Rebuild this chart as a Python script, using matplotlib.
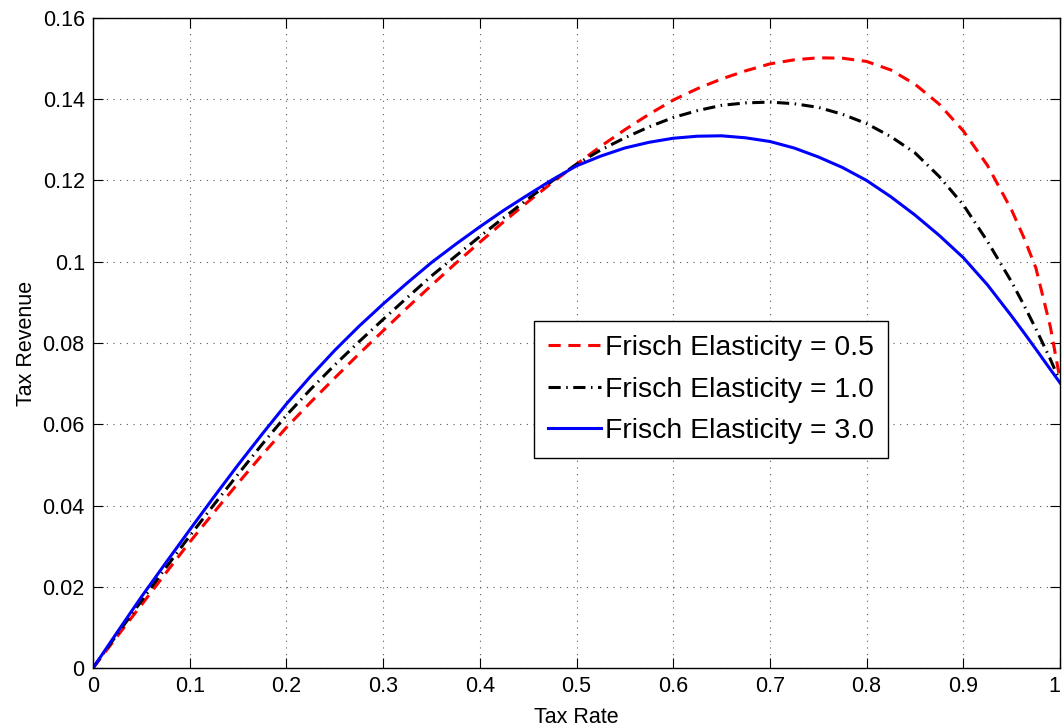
import matplotlib
matplotlib.use('Agg')
import matplotlib.pyplot as plt

# values
tax_rate = [0.0, 0.025, 0.05, 0.075, 0.1, 0.125, 0.15, 0.175, 0.2, 0.225,
            0.25, 0.275, 0.3, 0.325, 0.35, 0.375, 0.4, 0.425, 0.45, 0.475,
            0.5, 0.525, 0.55, 0.575, 0.6, 0.625, 0.65, 0.675, 0.7, 0.725,
            0.75, 0.775, 0.8, 0.825, 0.85, 0.875, 0.9, 0.925, 0.95, 0.9625, 0.975, 0.99, 1.0]
rev_e05 = [0.0, 0.0078, 0.0155, 0.0233, 0.031, 0.0383, 0.0455, 0.0525, 0.0592, 0.0654,
           0.0714, 0.0773, 0.0830, 0.0887, 0.0942, 0.0996, 0.1048, 0.1099, 0.1148, 0.1195,
           0.1240, 0.1284, 0.1325, 0.1363, 0.1398, 0.1426, 0.1450, 0.1470, 0.1487, 0.1497,
           0.1502, 0.1501, 0.1493, 0.1472, 0.1437, 0.1388, 0.1322, 0.1237, 0.1127, 0.1060, 0.0985, 0.0840, 0.0710]
rev_e10 = [0.0, 0.0083, 0.0165, 0.0246, 0.0325, 0.0402, 0.0477, 0.0551, 0.0622, 0.0686,
           0.0746, 0.0803, 0.0858, 0.0912, 0.0965, 0.1014, 0.1062, 0.1109, 0.1155, 0.1199,
           0.1240, 0.1275, 0.1305, 0.1332, 0.1355, 0.1372, 0.1385, 0.1391, 0.1393, 0.1389,
           0.1380, 0.1363, 0.1340, 0.1308, 0.1268, 0.1210, 0.1140, 0.1050, 0.0950, 0.0894, 0.0835, 0.0760, 0.0705]
rev_e30 = [0.0, 0.0088, 0.0175, 0.0258, 0.034, 0.0421, 0.050, 0.0576, 0.065, 0.0718,
           0.0782, 0.0841, 0.0896, 0.0948, 0.0998, 0.1043, 0.1086, 0.1127, 0.1165, 0.1202,
           0.1236, 0.1260, 0.1280, 0.1294, 0.1304, 0.1309, 0.1310, 0.1305, 0.1296, 0.1280,
           0.1258, 0.1232, 0.1200, 0.1160, 0.1115, 0.1065, 0.1010, 0.0943, 0.0866, 0.0826, 0.0785, 0.0735, 0.0702]
labels = ['Frisch Elasticity = 0.5', 'Frisch Elasticity = 1.0', 'Frisch Elasticity = 3.0']
x_ticks = [0, 0.1, 0.2, 0.3, 0.4, 0.5, 0.6, 0.7, 0.8, 0.9, 1]
x_ticklabels = ['0', '0.1', '0.2', '0.3', '0.4', '0.5', '0.6', '0.7', '0.8', '0.9', '1']
y_ticks = [0, 0.02, 0.04, 0.06, 0.08, 0.1, 0.12, 0.14, 0.16]
y_ticklabels = ['0', '0.02', '0.04', '0.06', '0.08', '0.1', '0.12', '0.14', '0.16']

plt.rcParams['font.family'] = ['Liberation Sans', 'DejaVu Sans']

fig = plt.figure(figsize=(10.63, 7.28), dpi=100)
ax = fig.add_axes([0.0875, 0.0824, 0.9097, 0.8929])

lw = 2.2
ax.plot(tax_rate, rev_e05, color='#ff0000', lw=lw, dashes=(4, 2.5), label=labels[0])
ax.plot(tax_rate, rev_e10, color='black', lw=lw, dashes=(4, 1.8, 0.5, 1.8), label=labels[1])
ax.plot(tax_rate, rev_e30, color='#0000ff', lw=lw, label=labels[2])

ax.set_xlim(0, 1)
ax.set_ylim(0, 0.16)
ax.set_xticks(x_ticks, x_ticklabels)
ax.set_yticks(y_ticks, y_ticklabels)

ax.grid(True, color='0.35', linestyle=(0, (1, 5)), linewidth=0.8)
ax.tick_params(direction='in', length=7, width=0.8, top=True, right=True,
               labelsize=15.5, pad=6)
for s in ax.spines.values():
    s.set_linewidth(1.0)

# keep the last x tick label inside the picture
ax.get_xticklabels()[-1].set_ha('right')

ax.set_xlabel('Tax Rate', fontsize=15.5, labelpad=7)
ax.set_ylabel('Tax Revenue', fontsize=15.5, labelpad=4)

leg = ax.legend(loc='upper left', bbox_to_anchor=(0.456, 0.534), borderaxespad=0,
                fontsize=20.4, fancybox=False, framealpha=1, edgecolor='black',
                handlelength=1.85, handletextpad=0.15, borderpad=0.5, labelspacing=0.55)
leg.get_frame().set_linewidth(1.0)

fig.savefig('out.png', dpi=100)
